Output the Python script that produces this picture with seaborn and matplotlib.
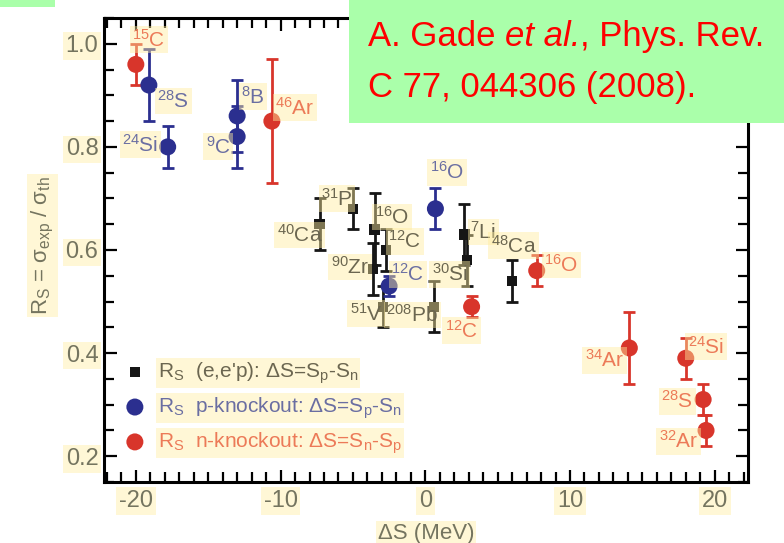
import numpy as np
import pandas as pd
import matplotlib
matplotlib.use("Agg")
import matplotlib.pyplot as plt
import seaborn as sns
from matplotlib import font_manager as fm
from matplotlib.patches import Rectangle
from matplotlib.ticker import MultipleLocator, FuncFormatter
from matplotlib.offsetbox import TextArea, HPacker, AnnotationBbox

# ---------------- data ----------------
# (e,e'p) : black squares
ee_nuclei = ["40Ca", "31P", "16O", "12C", "90Zr", "51V", "208Pb", "7Li", "30Si", "48Ca"]
ee_ds = [-7.3, -5.0, -3.5, -2.7, -3.6, -2.9, 0.6, 2.7, 2.9, 6.0]
ee_rs = [0.65, 0.68, 0.64, 0.60, 0.563, 0.49, 0.49, 0.63, 0.58, 0.54]
ee_err = [0.05, 0.04, 0.07, 0.04, 0.05, 0.04, 0.05, 0.06, 0.05, 0.04]

# p-knockout : blue circles
p_nuclei = ["28S", "24Si", "8B", "9C", "16O", "12C"]
p_ds = [-19.1, -17.8, -13.0, -13.0, 0.7, -2.5]
p_rs = [0.92, 0.80, 0.86, 0.82, 0.68, 0.53]
p_err = [0.07, 0.04, 0.07, 0.06, 0.04, 0.02]

# n-knockout : red circles
n_nuclei = ["15C", "46Ar", "16O", "12C", "34Ar", "24Si", "28S", "32Ar"]
n_ds = [-20.0, -10.6, 7.7, 3.2, 14.1, 18.0, 19.2, 19.4]
n_rs = [0.96, 0.85, 0.56, 0.49, 0.41, 0.39, 0.31, 0.25]
n_err = [0.04, 0.12, 0.03, 0.02, 0.07, 0.04, 0.03, 0.03]

# label anchor points (annotation layout)
ee_lab_xy = [(-8.7, 0.629), (-6.1, 0.700), (-2.3, 0.664), (-1.4, 0.617), (-5.2, 0.567),
             (-4.1, 0.476), (-0.9, 0.474), (4.0, 0.635), (1.7, 0.553), (6.1, 0.608)]
p_lab_xy = [(-17.4, 0.889), (-19.7, 0.804), (-11.9, 0.897), (-14.3, 0.800), (1.5, 0.751), (-1.2, 0.553)]
n_lab_xy = [(-19.1, 1.008), (-9.0, 0.876), (9.4, 0.571), (2.5, 0.443), (12.4, 0.386),
            (19.4, 0.412), (17.4, 0.307), (17.5, 0.229)]

legend_labels = [
    "R$_\\mathrm{S}$  (e,e'p): \u0394S=S$_\\mathrm{p}$-S$_\\mathrm{n}$",
    "R$_\\mathrm{S}$  p-knockout: \u0394S=S$_\\mathrm{p}$-S$_\\mathrm{n}$",
    "R$_\\mathrm{S}$  n-knockout: \u0394S=S$_\\mathrm{n}$-S$_\\mathrm{p}$",
]

# ---------------- style ----------------
sns.set_theme(style="white")
plt.rcParams["font.family"] = ["Liberation Sans", "DejaVu Sans"]
plt.rcParams["mathtext.fontset"] = "custom"
plt.rcParams["mathtext.rm"] = "Liberation Sans"
plt.rcParams["mathtext.it"] = "Liberation Sans:italic"
plt.rcParams["mathtext.bf"] = "Liberation Sans:bold"
plt.rcParams["axes.unicode_minus"] = False

BLACK = "#161616"
BLUE = "#2b2f8f"
RED = "#d8352b"
BLACK_LAB = "#6b6650"
BLUE_LAB = "#6a6ea2"
RED_LAB = "#ec7a58"
HL = "#ffec9e"
HL_SOLID = "#fff7d6"
TICK_LAB = "#74745f"


def iso(name):
    digits = "".join(c for c in name if c.isdigit())
    sym = "".join(c for c in name if not c.isdigit())
    return "$^{%s}$%s" % (digits, sym)


fig = plt.figure(figsize=(7.84, 5.43), dpi=100)
W, H = 784, 543
ax = fig.add_axes([104 / W, 1 - 482 / H, (748 - 104) / W, (482 - 18) / H])

df_ee = pd.DataFrame({"ds": ee_ds, "rs": ee_rs, "err": ee_err})
df_p = pd.DataFrame({"ds": p_ds, "rs": p_rs, "err": p_err})
df_n = pd.DataFrame({"ds": n_ds, "rs": n_rs, "err": n_err})

handles = []
for df, col, mk, sz in [(df_ee, BLACK, "s", 55), (df_p, BLUE, "o", 150), (df_n, RED, "o", 150)]:
    ax.errorbar(df["ds"], df["rs"], yerr=df["err"], fmt="none", ecolor=col,
                elinewidth=2.0, capsize=4, capthick=2.0, zorder=2)
    sns.scatterplot(data=df, x="ds", y="rs", marker=mk, color=col, s=sz,
                    edgecolor="none", linewidth=0, ax=ax, zorder=3, legend=False)
    handles.append(ax.collections[-1])

# nucleus labels with translucent highlight
for names, xy, col in [(ee_nuclei, ee_lab_xy, BLACK_LAB), (p_nuclei, p_lab_xy, BLUE_LAB),
                       (n_nuclei, n_lab_xy, RED_LAB)]:
    for nm, (lx, ly) in zip(names, xy):
        ax.text(lx, ly, iso(nm), color=col, fontsize=15, ha="center", va="center",
                zorder=5, bbox=dict(boxstyle="square,pad=0.12", fc=HL, ec="none", alpha=0.45))

ax.set_xlim(-22.2, 22.3)
ax.set_ylim(0.15, 1.05)
ax.xaxis.set_major_locator(MultipleLocator(10))
ax.xaxis.set_minor_locator(MultipleLocator(1))
ax.yaxis.set_major_locator(MultipleLocator(0.2))
ax.yaxis.set_minor_locator(MultipleLocator(0.05))
ax.xaxis.set_major_formatter(FuncFormatter(lambda v, p: "%d" % round(v)))
ax.yaxis.set_major_formatter(FuncFormatter(lambda v, p: "%.1f" % v))

for sp in ax.spines.values():
    sp.set_linewidth(2.2)
    sp.set_color("black")
ax.tick_params(which="both", direction="in", bottom=True, left=True, top=True, right=True,
               color="black", width=1.6, labelcolor=TICK_LAB, labelsize=17)
ax.tick_params(which="major", length=9)
ax.tick_params(which="minor", length=7)
ax.tick_params(axis="x", pad=6)
ax.tick_params(axis="y", pad=4)
for t in ax.get_xticklabels() + ax.get_yticklabels():
    t.set_bbox(dict(boxstyle="square,pad=0.12", fc=HL_SOLID, ec="none"))

ax.set_xlabel("\u0394S (MeV)", fontsize=16, color=TICK_LAB,
              bbox=dict(boxstyle="square,pad=0.1", fc=HL_SOLID, ec="none"))
ax.xaxis.set_label_coords(0.5, -0.088)
ax.set_ylabel("R$_\\mathrm{S}$ = \u03c3$_\\mathrm{exp}$ / \u03c3$_\\mathrm{th}$", fontsize=16,
              color=TICK_LAB, bbox=dict(boxstyle="square,pad=0.1", fc=HL_SOLID, ec="none"))
ax.yaxis.set_label_coords(-0.075, 0.51)

leg = ax.legend(handles, legend_labels, loc="upper left", bbox_to_anchor=(0.035, 0.262),
                frameon=False, fontsize=15, handlelength=0.8, handletextpad=0.7,
                labelspacing=0.45, borderpad=0, borderaxespad=0,
                labelcolor=[BLACK_LAB, BLUE_LAB, RED_LAB])
for t in leg.get_texts():
    t.set_bbox(dict(boxstyle="square,pad=0.1", fc=HL_SOLID, ec="none"))

# green citation boxes
fig.add_artist(Rectangle((349 / W, 1 - 123 / H), 1 - 349 / W, 123 / H, transform=fig.transFigure,
                         fc="#aaffaa", ec="none", zorder=10))
fig.add_artist(Rectangle((0, 1 - 7 / H), 55 / W, 7 / H, transform=fig.transFigure,
                         fc="#aaffaa", ec="none", zorder=10))

names = {f.name for f in fm.fontManager.ttflist}
if "Liberation Sans Narrow" in names:
    cfam, cfs = "Liberation Sans Narrow", 29
else:
    cfam, cfs = "Liberation Sans", 25
tp = dict(color="red", fontsize=cfs, family=cfam)
tpi = dict(color="red", fontsize=cfs, family=cfam, style="italic")
line1 = HPacker(children=[TextArea("A. Gade ", textprops=tp), TextArea("et al.", textprops=tpi),
                          TextArea(", Phys. Rev.", textprops=tp)], align="baseline", pad=0, sep=0)
ab = AnnotationBbox(line1, (368 / W, 1 - 36 / H), xycoords="figure fraction",
                    box_alignment=(0, 0.5), frameon=False, zorder=12, pad=0)
fig.add_artist(ab)
fig.text(368 / W, 1 - 87 / H, "C 77, 044306 (2008).", ha="left", va="center", zorder=12, **tp)

fig.savefig("out.png", dpi=100)
